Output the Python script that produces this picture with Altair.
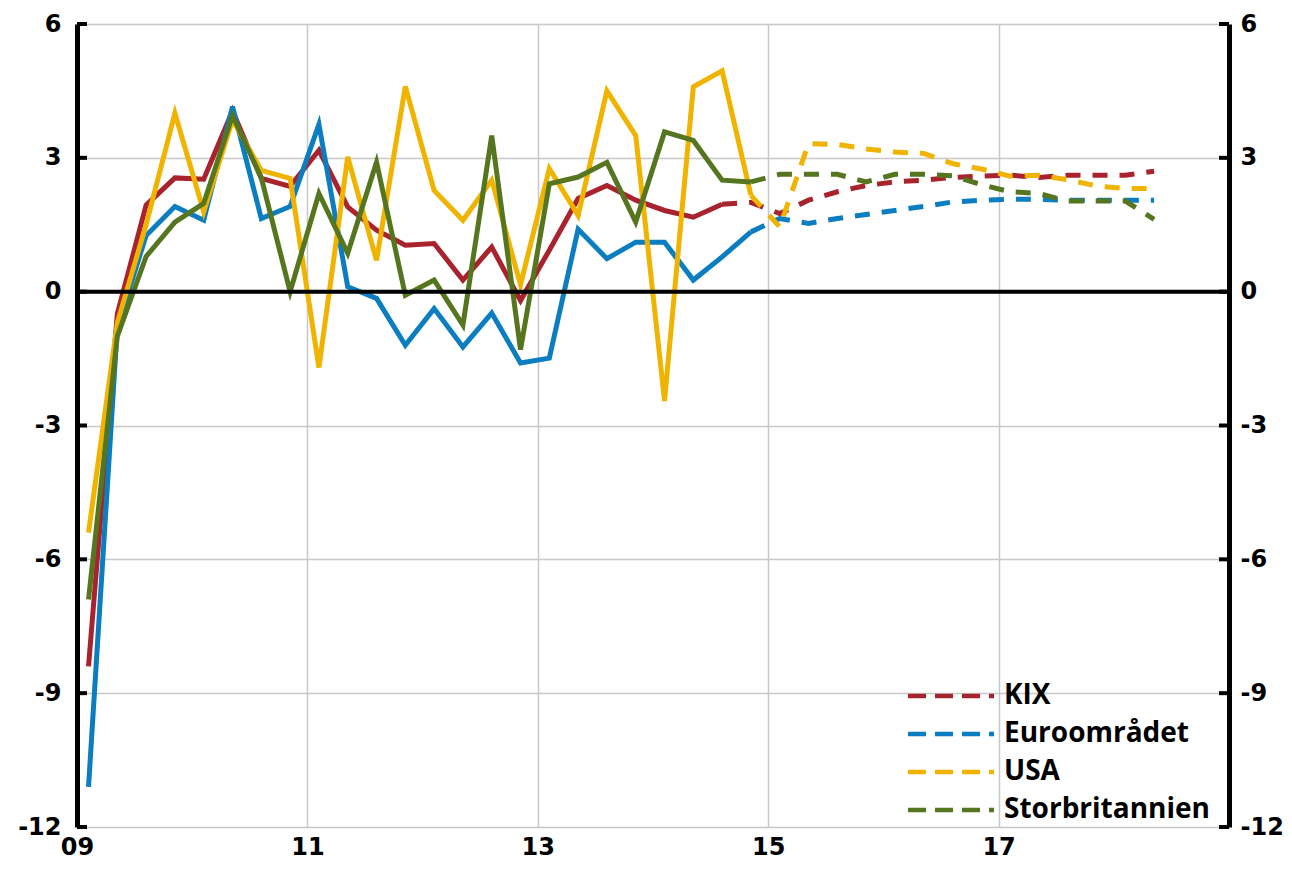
import altair as alt
import pandas as pd

series = ["KIX", "Euroområdet", "USA", "Storbritannien"]
colors = ["#A8232D", "#0B7DC1", "#F0B400", "#55761F"]
start_year = 2009
# quarterly values 2009Q1 .. 2018Q2
kix = [-8.4, -0.5, 1.94, 2.55, 2.52, 4.05, 2.54, 2.36, 3.17, 1.9, 1.38, 1.04, 1.08, 0.26, 1.0, -0.2,
       0.93, 2.09, 2.38, 2.05, 1.82, 1.67, 1.96, 2.0, 1.75, 2.05, 2.24, 2.38, 2.46, 2.5, 2.56, 2.59,
       2.61, 2.56, 2.61, 2.61, 2.61, 2.7]
euro = [-11.1, -0.8, 1.26, 1.91, 1.6, 4.15, 1.64, 1.91, 3.75, 0.11, -0.15, -1.2, -0.38, -1.24, -0.48, -1.6,
        -1.49, 1.4, 0.74, 1.11, 1.11, 0.26, 0.78, 1.34, 1.64, 1.53, 1.64, 1.73, 1.82, 1.91, 2.01, 2.05,
        2.07, 2.07, 2.05, 2.05, 2.05, 2.05]
usa = [-5.4, -0.7, 1.5, 4.0, 1.79, 3.85, 2.72, 2.54, -1.7, 3.02, 0.7, 4.6, 2.27, 1.6, 2.5, 0.15,
       2.76, 1.71, 4.5, 3.5, -2.45, 4.59, 4.95, 2.16, 1.45, 3.32, 3.3, 3.2, 3.13, 3.1, 2.87, 2.75,
       2.59, 2.61, 2.51, 2.37, 2.31, 2.31]
uk = [-6.9, -1.0, 0.79, 1.56, 1.98, 3.95, 2.55, 0.0, 2.2, 0.86, 2.9, -0.08, 0.26, -0.75, 3.5, -1.3,
      2.42, 2.57, 2.9, 1.56, 3.58, 3.39, 2.5, 2.46, 2.63, 2.63, 2.63, 2.46, 2.63, 2.63, 2.6, 2.4,
      2.24, 2.2, 2.03, 2.03, 2.03, 1.62]
last_outcome = [22, 23, 23, 23]  # index of last outcome quarter per series

y_ticks = [-12, -9, -6, -3, 0, 3, 6]
x_ticks = [2009, 2011, 2013, 2015, 2017]

rows_out, rows_fc = [], []
for name, vals, last in zip(series, [kix, euro, usa, uk], last_outcome):
    for k, v in enumerate(vals):
        t = start_year + k / 4 + 0.1
        if k <= last:
            rows_out.append({"serie": name, "t": t, "v": v})
        if k >= last:
            rows_fc.append({"serie": name, "t": t, "v": v})
df_out = pd.DataFrame(rows_out)
df_fc = pd.DataFrame(rows_fc)
df_ticks = pd.DataFrame({"v": y_ticks})

AX_FONT = "DejaVu Sans"
LG_FONT = "Open Sans"
W, H = 1152, 803
LW = 5

xs = alt.Scale(domain=[2009, 2019], nice=False, zero=False)
ys = alt.Scale(domain=[-12, 6], nice=False, zero=False)

num_expr = "datum.value < 0 ? '-' + abs(datum.value) : '' + datum.value"

x_axis = alt.Axis(values=x_ticks, labelExpr="slice('0' + (datum.value % 100), -2)",
                  grid=True, gridColor="#C8C8C8", gridWidth=1.5, domain=False, ticks=False,
                  labelFlush=False, labelFont=AX_FONT, labelFontSize=24, labelFontWeight="bold",
                  labelColor="black", labelPadding=8, title=None)
y_axis = alt.Axis(values=y_ticks, orient="left", grid=True, gridColor="#C8C8C8", gridWidth=1.5,
                  domain=True, domainColor="black", domainWidth=5, ticks=False, labelExpr=num_expr,
                  labelFlush=False, labelFont=AX_FONT, labelFontSize=24, labelFontWeight="bold",
                  labelColor="black", labelPadding=16, title=None)
y_axis_r = alt.Axis(values=y_ticks, orient="right", grid=False, labelExpr=num_expr,
                    domain=True, domainColor="black", domainWidth=5, ticks=False,
                    labelFlush=False, labelFont=AX_FONT, labelFontSize=24, labelFontWeight="bold",
                    labelColor="black", labelPadding=11, title=None)

legend = alt.Legend(orient="none", legendX=850, legendY=648, title=None,
                    symbolType="M-2,0H2", symbolStrokeWidth=4.5, symbolDash=[18, 9],
                    symbolSize=1849, symbolFillColor="transparent",
                    labelFont=LG_FONT, labelFontSize=28, labelFontWeight="bold", labelLimit=400,
                    labelColor="black", rowPadding=0, labelOffset=29)
color = alt.Color("serie:N", scale=alt.Scale(domain=series, range=colors), sort=series, legend=legend)

X = alt.X("t:Q", scale=xs, axis=x_axis)
Y = alt.Y("v:Q", scale=ys, axis=y_axis)

outcome = alt.Chart(df_out).mark_line(strokeWidth=LW, strokeJoin="miter").encode(
    x=X, y=Y, color=color, detail="serie:N")
forecast = alt.Chart(df_fc).mark_line(strokeWidth=LW, strokeDash=[15, 12]).encode(
    x=X, y=Y, color=color, detail="serie:N")
zero = alt.Chart(df_ticks).transform_filter("datum.v == 0").mark_rule(
    color="black", strokeWidth=4).encode(y=Y)
ticks_left = alt.Chart(df_ticks).mark_rule(color="black", strokeWidth=4).encode(
    y=Y, x=alt.value(0), x2=alt.value(10))

ticks_right = alt.Chart(df_ticks).mark_rule(color="black", strokeWidth=4).encode(
    y=alt.Y("v:Q", scale=ys, axis=y_axis_r), x=alt.value(W - 10), x2=alt.value(W))

inner = alt.layer(outcome, forecast, zero, ticks_left)
chart = alt.layer(inner, ticks_right).resolve_scale(y="independent").properties(
    width=W, height=H,
    autosize=alt.AutoSizeParams(type="none"),
    padding={"left": 69, "top": 16, "right": 55, "bottom": 40},
).configure_view(stroke=None)

chart.save("out.html", embed_options={"renderer": "svg", "actions": False})
